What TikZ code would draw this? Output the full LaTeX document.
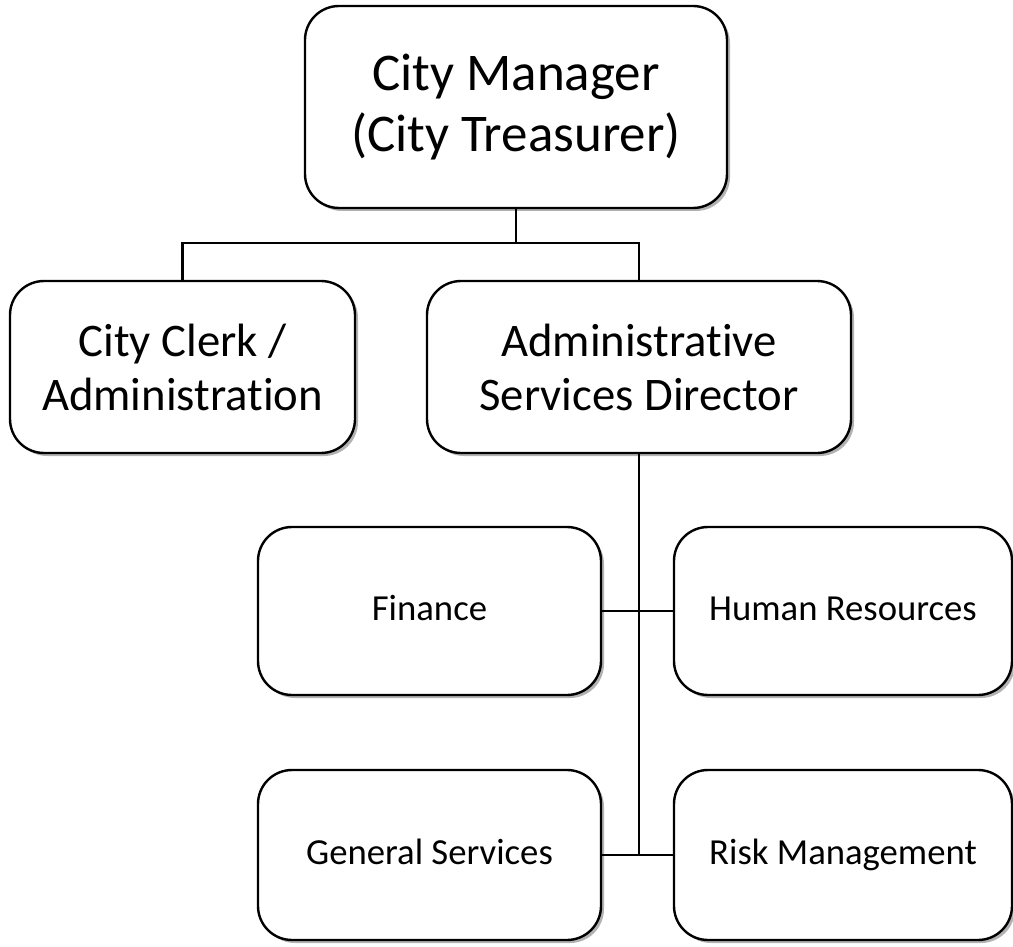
\documentclass[tikz,border=0pt]{standalone}
\usepackage{fontspec}
\setmainfont[RawFeature=-liga]{Carlito}
\usetikzlibrary{shadows}
\begin{document}
\begin{tikzpicture}[x=1pt,y=-1pt,
  orgbox/.style={draw=black,line width=2.4pt,fill=white,rounded corners=34pt,
    inner sep=0pt,align=center,
    drop shadow={shadow xshift=3pt,shadow yshift=-3pt,fill=black,opacity=0.3}},
  smallbox/.style={orgbox,font=\fontsize{36.7}{44}\selectfont,
    text height=26pt,text depth=8pt},
  conn/.style={draw=black,line width=2.2pt}]
\useasboundingbox (0,0) rectangle (1013,947);
\node[orgbox,minimum width=422pt,minimum height=202pt,
  font=\fontsize{53}{61}\selectfont] (top) at (516,107) {City Manager\\(City Treasurer)};
\node[orgbox,minimum width=345pt,minimum height=172pt,
  font=\fontsize{46.7}{54}\selectfont] (clerk) at (182.5,367) {City Clerk /\\Administration};
\node[orgbox,minimum width=424pt,minimum height=172pt,
  font=\fontsize{46.7}{54}\selectfont] (admin) at (639,367) {Administrative\\Services Director};
\node[smallbox,minimum width=343pt,minimum height=168pt] (fin) at (429.5,611) {Finance};
\node[smallbox,minimum width=338pt,minimum height=168pt] (hr) at (843,611) {Human Resources};
\node[smallbox,minimum width=343pt,minimum height=170pt] (gs) at (429.5,855) {General Services};
\node[smallbox,minimum width=338pt,minimum height=170pt] (rm) at (843,855) {Risk Management};
\coordinate (j) at (516,243);
\coordinate (t2) at (admin.south |- gs.east);
\draw[conn] (top.south) -- (j);
\draw[conn] (clerk.north) |- (j) -| (admin.north);
\draw[conn] (admin.south) -- (t2);
\draw[conn] (fin.east) -- (hr.west);
\draw[conn] (gs.east) -- (rm.west);
\end{tikzpicture}
\end{document}
